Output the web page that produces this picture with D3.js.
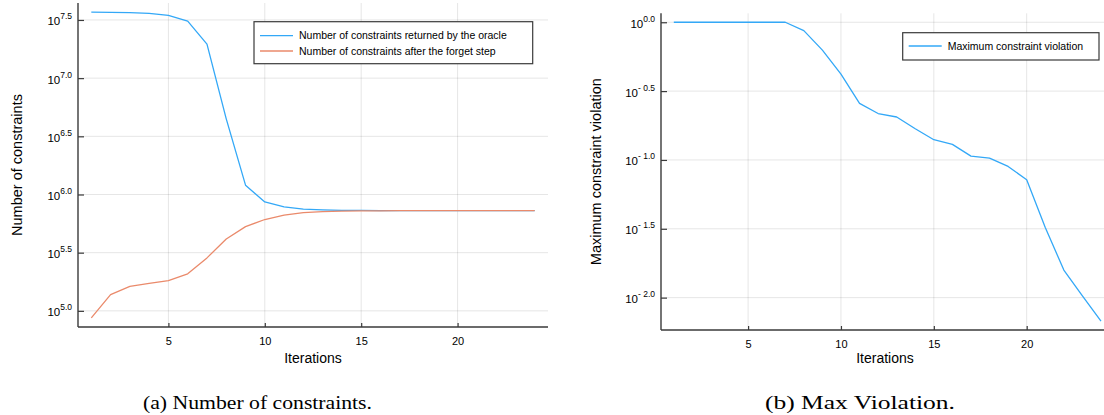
<!DOCTYPE html>
<html>
<head>
<meta charset="utf-8">
<script src="https://cdn.jsdelivr.net/npm/d3@7"></script>
<style>
  html, body { margin: 0; padding: 0; background: #fff; }
  svg { display: block; }
  text { font-family: "Liberation Sans", Arial, Helvetica, sans-serif; fill: #000; }
  text.caption { font-family: "Liberation Serif", "DejaVu Serif", serif; }
</style>
</head>
<body>
<svg id="chart" width="1104" height="415"></svg>
<script>
// ---------- data (log10 values as plotted) ----------
const iterations = d3.range(1, 25);
const oracleLog10 = [7.567, 7.566, 7.563, 7.556, 7.539, 7.49, 7.292, 6.65, 6.08, 5.936, 5.894, 5.874, 5.868, 5.864, 5.863, 5.862, 5.862, 5.862, 5.862, 5.862, 5.862, 5.862, 5.862, 5.862];
const forgetLog10 = [4.94, 5.14, 5.211, 5.237, 5.26, 5.318, 5.455, 5.618, 5.724, 5.785, 5.822, 5.844, 5.853, 5.857, 5.859, 5.86, 5.861, 5.861, 5.862, 5.862, 5.862, 5.862, 5.862, 5.862];
const violationLog10 = [0, 0, 0, 0, 0, 0, 0, -0.061, -0.202, -0.377, -0.589, -0.663, -0.688, -0.773, -0.853, -0.887, -0.972, -0.987, -1.047, -1.144, -1.49, -1.80, -1.988, -2.17];

const xTicks = [5, 10, 15, 20];
const leftYTicks = [5.0, 5.5, 6.0, 6.5, 7.0, 7.5];
const rightYTicks = [-2.0, -1.5, -1.0, -0.5, 0.0];

const leftSeriesNames = ["Number of constraints returned by the oracle", "Number of constraints after the forget step"];
const rightSeriesNames = ["Maximum constraint violation"];
const captions = ["(a) Number of constraints.", "(b) Max Violation."];
const colors = ["#33a8f7", "#ea8a6b"];

const svg = d3.select("#chart");

function padDomain(vals, frac) {
  const [a, b] = d3.extent(vals);
  const p = (b - a) * frac;
  return [a - p, b + p];
}

function tickLabelText(v) {
  const s = Math.abs(v).toFixed(1);
  return v < 0 ? "- " + s : s;
}

function panel(opts) {
  const { x0, x1, y0, y1, yTicks, series, names, yLabel, yLabelX, xLabelY, xLabelX, legend } = opts;
  const xs = d3.scaleLinear().domain(padDomain(iterations, 0.03)).range([x0, x1]);
  const ys = d3.scaleLinear().domain(padDomain(series.flat(), 0.03)).range([y1, y0]);
  const g = svg.append("g");

  // grid
  g.append("g").selectAll("line").data(xTicks).join("line")
    .attr("x1", d => xs(d)).attr("x2", d => xs(d)).attr("y1", y0).attr("y2", y1)
    .attr("stroke", "#000").attr("stroke-opacity", 0.1).attr("stroke-width", 1);
  g.append("g").selectAll("line").data(yTicks).join("line")
    .attr("x1", x0).attr("x2", x1).attr("y1", d => ys(d)).attr("y2", d => ys(d))
    .attr("stroke", "#000").attr("stroke-opacity", 0.1).attr("stroke-width", 1);

  // axes
  const xAxis = d3.axisBottom(xs).tickValues(xTicks).tickSize(-4).tickPadding(10).tickFormat(d3.format("d"));
  const xg = g.append("g").attr("transform", `translate(0,${y1})`).call(xAxis);
  xg.select(".domain").attr("d", `M${x0},0H${x1}`).attr("stroke", "#3a3a3a").attr("stroke-width", 1.4);
  xg.selectAll(".tick line").attr("stroke", "#3a3a3a").attr("stroke-width", 1.2);
  xg.selectAll(".tick text").attr("font-size", 11).attr("fill", "#000");

  const yAxis = d3.axisLeft(ys).tickValues(yTicks).tickSize(-6).tickPadding(0).tickFormat(() => "");
  const yg = g.append("g").attr("transform", `translate(${x0},0)`).call(yAxis);
  yg.select(".domain").attr("d", `M0,${y0}V${y1}`).attr("stroke", "#3a3a3a").attr("stroke-width", 1.4);
  yg.selectAll(".tick line").attr("stroke", "#3a3a3a").attr("stroke-width", 1.2);
  yg.selectAll(".tick").each(function(d) {
    const t = d3.select(this).append("text").attr("x", -6).attr("y", 5).attr("text-anchor", "end")
      .attr("font-size", 11.5).attr("fill", "#000");
    t.append("tspan").text("10");
    t.append("tspan").attr("dy", -6).attr("font-size", 8.5).text(tickLabelText(d));
  });

  // lines
  const line = d3.line().x((d, i) => xs(iterations[i])).y(d => ys(d));
  series.forEach((s, k) => {
    g.append("path").datum(s).attr("d", line).attr("fill", "none")
      .attr("stroke", colors[k]).attr("stroke-width", 1.3).attr("stroke-linejoin", "round");
  });

  // axis labels
  g.append("text").attr("x", xLabelX).attr("y", xLabelY)
    .attr("text-anchor", "middle").attr("font-size", 14).text("Iterations");
  g.append("text").attr("transform", `translate(${yLabelX},${(y0 + y1) / 2}) rotate(-90)`)
    .attr("text-anchor", "middle").attr("font-size", 14.5).text(yLabel);

  // legend
  const lg = g.append("g");
  lg.append("rect").attr("x", legend.x).attr("y", legend.y).attr("width", legend.w).attr("height", legend.h)
    .attr("fill", "#fff").attr("stroke", "#3a3a3a").attr("stroke-width", 1.2);
  names.forEach((n, k) => {
    const yy = legend.rowY[k];
    lg.append("line").attr("x1", legend.x + 6).attr("x2", legend.x + 39).attr("y1", yy).attr("y2", yy)
      .attr("stroke", colors[k]).attr("stroke-width", 1.3);
    lg.append("text").attr("x", legend.x + 45).attr("y", yy).attr("dy", "0.35em")
      .attr("font-size", 10.5).text(n);
  });
}

panel({
  x0: 78, x1: 548, y0: 3, y1: 327,
  yTicks: leftYTicks, series: [oracleLog10, forgetLog10], names: leftSeriesNames,
  yLabel: "Number of constraints", yLabelX: 22, xLabelY: 363, xLabelX: 313,
  legend: { x: 254, y: 21.7, w: 278.7, h: 42, rowY: [35.7, 51] }
});

panel({
  x0: 661, x1: 1113.8, y0: 13.3, y1: 330,
  yTicks: rightYTicks, series: [violationLog10], names: rightSeriesNames,
  yLabel: "Maximum constraint violation", yLabelX: 601, xLabelY: 363, xLabelX: 885,
  legend: { x: 902.7, y: 32.7, w: 196.3, h: 27.3, rowY: [46] }
});

// captions
svg.append("text").attr("class", "caption").attr("x", 143).attr("y", 409)
  .attr("font-size", 19).attr("textLength", 229).attr("lengthAdjust", "spacingAndGlyphs").text(captions[0]);
svg.append("text").attr("class", "caption").attr("x", 765).attr("y", 409)
  .attr("font-size", 19).attr("textLength", 190).attr("lengthAdjust", "spacingAndGlyphs").text(captions[1]);
</script>
</body>
</html>
